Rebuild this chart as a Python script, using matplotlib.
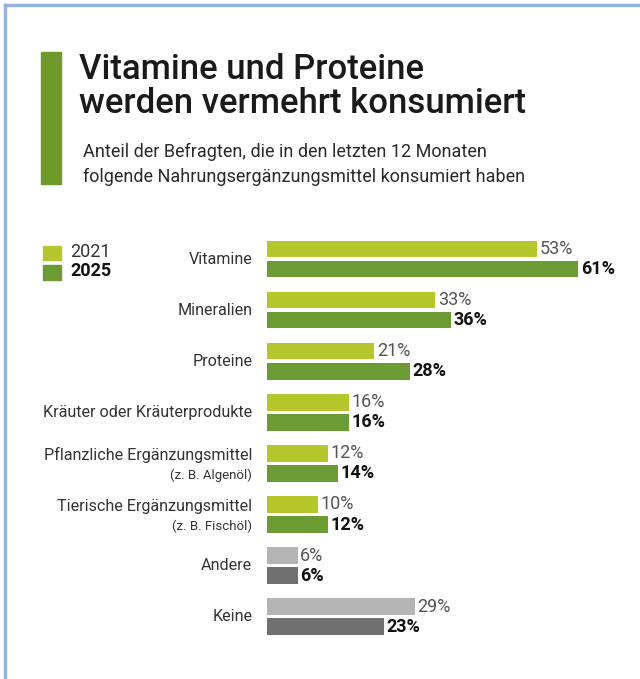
import matplotlib
matplotlib.use("Agg")
import matplotlib.pyplot as plt
from matplotlib.patches import Rectangle
from matplotlib.lines import Line2D

categories = ["Vitamine", "Mineralien", "Proteine", "Kräuter oder Kräuterprodukte",
              "Pflanzliche Ergänzungsmittel", "Tierische Ergänzungsmittel", "Andere", "Keine"]
sublabels = ["", "", "", "", "(z. B. Algenöl)", "(z. B. Fischöl)", "", ""]
values_2021 = [53, 33, 21, 16, 12, 10, 6, 29]
values_2025 = [61, 36, 28, 16, 14, 12, 6, 23]
series_names = ["2021", "2025"]

title = "Vitamine und Proteine\nwerden vermehrt konsumiert"
subtitle = "Anteil der Befragten, die in den letzten 12 Monaten\nfolgende Nahrungsergänzungsmittel konsumiert haben"

FONT = ["Roboto", "DejaVu Sans"]
plt.rcParams['font.family'] = FONT

W, H = 640, 679
fig = plt.figure(figsize=(W / 100, H / 100), dpi=100)
fig.patch.set_facecolor("white")

def fx(px):
    return px / W

def fy(py):
    return 1 - py / H

# Border (top and left)
fig.add_artist(Line2D([fx(5), 1], [fy(5), fy(5)], color="#95b5da", lw=2.5))
fig.add_artist(Line2D([fx(5), fx(5)], [fy(5), 0], color="#95b5da", lw=2.5))

# Green accent bar
fig.add_artist(Rectangle((fx(41), fy(184)), fx(61) - fx(41), fy(52) - fy(184),
                         color="#6f9a2a", transform=fig.transFigure))

fig.text(fx(79), fy(53), title, fontsize=25, fontweight="medium", color="#1a1a1a",
         va="top", ha="left", linespacing=1.05)
fig.text(fx(83), fy(143), subtitle, fontsize=13, color="#2a2a2a",
         va="top", ha="left", linespacing=1.45)

c21_green, c25_green = "#b6c72c", "#6c9a33"
c21_grey, c25_grey = "#b4b4b4", "#707070"

# Legend
fig.add_artist(Rectangle((fx(43), fy(260)), fx(18), 14 / H, color=c21_green, transform=fig.transFigure))
fig.add_artist(Rectangle((fx(43), fy(280)), fx(18), 15 / H, color=c25_green, transform=fig.transFigure))
fig.text(fx(70), fy(252), series_names[0], fontsize=13, color="#333333", va="center", ha="left")
fig.text(fx(70), fy(271), series_names[1], fontsize=13, color="#111111", va="center", ha="left",
         fontweight="bold")

# Bar axes
top_px, bot_px = 233.45, 642.25
ax = fig.add_axes([fx(267), fy(bot_px), 1 - fx(267), (bot_px - top_px) / H])
scale = 5.1
ax.set_xlim(0, (W - 267) / scale)
n = len(categories)
ax.set_ylim(n - 0.5, -0.5)
ax.axis("off")

bh = 0.325
off = 0.196
for i in range(n):
    grey = categories[i] in ("Andere", "Keine")
    ca = c21_grey if grey else c21_green
    cb = c25_grey if grey else c25_green
    ax.barh(i - off, values_2021[i], height=bh, color=ca)
    ax.barh(i + off, values_2025[i], height=bh, color=cb)
    ax.text(values_2021[i] + 0.5, i - off, f"{values_2021[i]}%", fontsize=13,
            color="#555555", va="center", ha="left")
    ax.text(values_2025[i] + 0.5, i + off, f"{values_2025[i]}%", fontsize=13,
            color="#111111", va="center", ha="left", fontweight="bold")
    if sublabels[i]:
        ax.text(-2.9, i - 0.16, categories[i], fontsize=11.6, color="#333333",
                va="center", ha="right", clip_on=False)
        ax.text(-2.9, i + 0.24, sublabels[i], fontsize=9.5, color="#333333",
                va="center", ha="right", clip_on=False)
    else:
        ax.text(-2.9, i, categories[i], fontsize=11.6, color="#333333",
                va="center", ha="right", clip_on=False)

fig.savefig("out.png", dpi=100, facecolor="white")
